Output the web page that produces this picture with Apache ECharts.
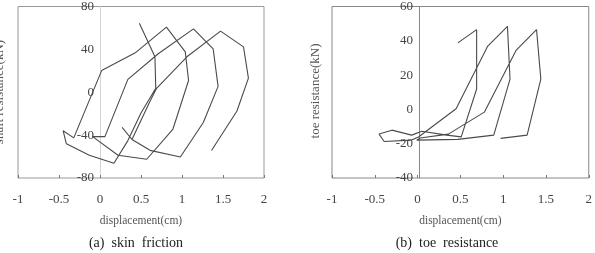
<!DOCTYPE html>
<html>
<head>
<meta charset="utf-8">
<script src="https://cdn.jsdelivr.net/npm/echarts@6/dist/echarts.min.js"></script>
<style>
  html, body { margin: 0; padding: 0; background: #fff; }
  #main { width: 595px; height: 253px; }
</style>
</head>
<body>
<div id="main"></div>
<script>
// (a) skin friction: displacement (cm) vs shaft resistance (kN), one continuous path
const skinX = [0.48, 0.67, 0.68, 0.50, 0.34, 0.17, -0.13, -0.41, -0.45, -0.32, 0.02, 0.43, 0.81, 1.04, 1.08, 0.89, 0.57, 0.22, -0.09, 0.06, 0.34, 0.71, 1.14, 1.38, 1.44, 1.26, 0.98, 0.61, 0.39, 0.27, 0.39, 0.61, 0.69, 1.06, 1.47, 1.75, 1.81, 1.67, 1.36]
const skinY = [64.4, 33.1, 3.7, -19.3, -45.1, -66.2, -58.8, -48.1, -35.9, -42.6, 20.2, 36.8, 60.7, 37.7, 11.0, -34.3, -62.5, -58.8, -41.4, -41.4, 12.0, 35.9, 59.1, 40.5, 5.5, -28.2, -60.4, -54.2, -44.1, -32.8, -44.1, -8.3, 3.7, 33.1, 57.0, 42.3, 13.2, -17.5, -54.3]

// (b) toe resistance: displacement (cm) vs toe resistance (kN)
const toeX = [0.47, 0.69, 0.69, 0.51, 0.34, 0.05, -0.07, -0.30, -0.45, -0.39, -0.07, 0.01, 0.45, 0.82, 1.05, 1.08, 0.89, 0.47, -0.01, 0.03, 0.36, 0.78, 1.15, 1.39, 1.44, 1.28, 0.97]
const toeY = [38.8, 46.5, 11.9, -16.0, -15.0, -12.7, -15.0, -12.1, -14.4, -18.7, -17.9, -16.1, 0.4, 36.9, 48.4, 17.7, -15.0, -17.5, -17.9, -16.7, -14.4, -1.6, 34.4, 46.5, 17.7, -15.0, -16.9]

// axis ranges / tick steps
const xRange = [-1, 2, 0.5]
const skinRange = [-80, 80, 40]
const toeRange = [-40, 60, 20]

const FONT = 'Liberation Serif'
const ink = '#4a4a4a'

function pairs(xs, ys) {
  return xs.map((x, i) => [x, ys[i]])
}

function xAxisFor(idx) {
  return {
    gridIndex: idx,
    type: 'value',
    min: xRange[0],
    max: xRange[1],
    interval: xRange[2],
    name: 'displacement(cm)',
    nameLocation: 'middle',
    nameGap: 37,
    nameTextStyle: { fontFamily: FONT, fontSize: 11.5, color: '#555' },
    axisLine: { show: false, onZero: false },
    axisTick: { show: true, inside: true, length: 3, lineStyle: { color: '#777' } },
    axisLabel: { fontFamily: FONT, fontSize: 13, color: '#444', margin: 15 },
    splitLine: { show: false }
  }
}

// y axis sits on x = 0, so shift it right from the grid's left edge
function yAxisFor(idx, range, lineColor, shift) {
  return {
    gridIndex: idx,
    type: 'value',
    min: range[0],
    max: range[1],
    interval: range[2],
    offset: -shift,
    axisLine: { show: true, onZero: false, lineStyle: { color: lineColor, width: 1 } },
    axisTick: { show: false },
    axisLabel: { fontFamily: FONT, fontSize: 13, color: '#444', margin: 6 },
    splitLine: { show: false }
  }
}

const option = {
  animation: false,
  backgroundColor: '#fff',
  grid: [
    { left: 18, top: 4, width: 246, height: 174, show: true, borderColor: '#999', borderWidth: 1, backgroundColor: 'transparent' },
    { left: 332, top: 5, width: 261, height: 173, show: true, borderColor: '#888', borderWidth: 1, backgroundColor: 'transparent' }
  ],
  xAxis: [xAxisFor(0), xAxisFor(1)],
  yAxis: [yAxisFor(0, skinRange, '#d4d4d4', 82), yAxisFor(1, toeRange, '#8a8a8a', 87)],
  series: [
    {
      type: 'line',
      xAxisIndex: 0,
      yAxisIndex: 0,
      showSymbol: false,
      lineStyle: { color: ink, width: 1.1 },
      data: pairs(skinX, skinY)
    },
    {
      type: 'line',
      xAxisIndex: 1,
      yAxisIndex: 1,
      showSymbol: false,
      lineStyle: { color: ink, width: 1.1 },
      data: pairs(toeX, toeY)
    }
  ],
  graphic: [
    {
      type: 'text',
      x: 0,
      y: 92,
      rotation: Math.PI / 2,
      style: { text: 'shaft resistance(kN)', fontFamily: FONT, fontSize: 13, fill: '#555', align: 'center', verticalAlign: 'middle' }
    },
    {
      type: 'text',
      x: 316,
      y: 91,
      rotation: Math.PI / 2,
      style: { text: 'toe resistance(kN)', fontFamily: FONT, fontSize: 13, fill: '#555', align: 'center', verticalAlign: 'middle' }
    },
    {
      type: 'text',
      x: 136,
      y: 243,
      style: { text: '(a)  skin  friction', fontFamily: FONT, fontSize: 14, fill: '#222', align: 'center', verticalAlign: 'middle' }
    },
    {
      type: 'text',
      x: 447,
      y: 243,
      style: { text: '(b)  toe  resistance', fontFamily: FONT, fontSize: 14, fill: '#222', align: 'center', verticalAlign: 'middle' }
    }
  ]
}

const myChart = echarts.init(document.getElementById('main'), null, { renderer: 'canvas' })
myChart.setOption(option)
</script>
</body>
</html>
